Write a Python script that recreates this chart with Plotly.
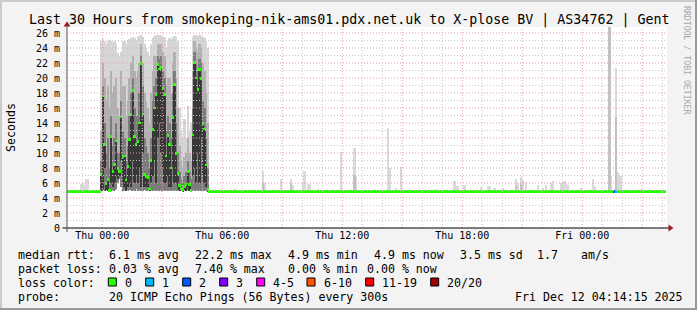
import plotly.graph_objects as go
import pandas as pd

# ---------------- data ----------------
title_text = "Last 30 Hours from smokeping-nik-ams01.pdx.net.uk to X-plose BV | AS34762 | Gent"
x_start = "2025-12-10 22:14:15"
x_end = "2025-12-12 04:14:15"
first_sample = "2025-12-10 22:15"
last_sample = "2025-12-12 04:10"

x_tick_vals = ["2025-12-11 00:00", "2025-12-11 03:00", "2025-12-11 06:00", "2025-12-11 09:00",
               "2025-12-11 12:00", "2025-12-11 15:00", "2025-12-11 18:00", "2025-12-11 21:00",
               "2025-12-12 00:00", "2025-12-12 03:00"]
x_tick_text = ["Thu 00:00", "", "Thu 06:00", "", "Thu 12:00", "", "Thu 18:00", "", "Fri 00:00", ""]
y_tick_vals = [0, 2, 4, 6, 8, 10, 12, 14, 16, 18, 20, 22, 24, 26]
y_tick_text = ["0", "2 m", "4 m", "6 m", "8 m", "10 m", "12 m", "14 m", "16 m", "18 m",
               "20 m", "22 m", "24 m", "26 m"]

calm_median = 4.9
calm_min = 4.8

# turbulent period, 5-minute samples starting Thu 00:00 (ms)
turb_first = "2025-12-11 00:00"
turb_median = [7.1, 17.6, 11.1, 5.9, 6.5, 5.0, 12.2, 7.5, 8.5, 11.6,
               7.9, 7.5, 14.8, 9.5, 9.6, 6.4, 8.2, 11.8, 15.1, 18.3,
               12.2, 11.1, 11.5, 14.0, 21.9, 15.2, 7.1, 6.9, 6.7, 5.2,
               9.0, 13.1, 16.0, 17.8, 21.8, 21.2, 21.4, 18.6, 17.8, 9.6,
               12.3, 11.1, 8.0, 14.7, 19.1, 9.9, 7.3, 5.7, 5.3, 5.1,
               5.5, 5.8, 7.5, 5.8, 5.0, 12.4, 22.1, 20.0, 18.5, 21.1,
               19.9, 13.9, 13.2, 8.4, 5.1]
turb_min = [5.0, 5.0, 5.0, 5.0, 5.0, 4.9, 5.0, 5.1, 5.0, 5.2,
            6.0, 6.5, 5.5, 5.0, 5.0, 5.0, 5.0, 5.1, 5.0, 5.0,
            5.0, 5.2, 5.0, 5.0, 5.0, 5.0, 5.1, 5.0, 5.0, 4.9,
            5.0, 5.0, 5.0, 5.0, 5.0, 5.0, 5.0, 5.0, 5.0, 5.0,
            5.0, 5.0, 5.0, 5.0, 5.0, 5.0, 5.0, 4.9, 4.9, 4.9,
            4.9, 4.9, 5.0, 4.9, 4.9, 5.0, 5.0, 5.0, 5.0, 5.0,
            5.0, 5.0, 5.0, 5.0, 4.9]
# lower end of the darkest streak below each median
turb_black_lo = [5.0, 5.2, 8.0, 5.0, 5.0, 4.9, 6.0, 5.5, 6.0, 7.0,
                 6.5, 7.0, 9.0, 6.0, 5.5, 5.0, 5.5, 6.0, 5.5, 9.0,
                 6.0, 7.0, 6.0, 8.0, 5.5, 10.0, 5.5, 5.5, 5.5, 4.9,
                 6.0, 7.0, 9.0, 6.0, 12.0, 14.0, 10.0, 8.0, 6.0, 6.0,
                 7.0, 5.5, 5.5, 8.0, 6.0, 6.0, 5.5, 5.0, 5.0, 4.9,
                 5.0, 5.0, 5.5, 5.0, 4.9, 7.0, 8.0, 6.0, 10.0, 6.0,
                 12.0, 7.0, 6.0, 5.5, 4.9]
turb_dark = [9, 19, 14, 10, 12, 8, 15, 11, 12, 14,
             10, 10, 17, 13, 12, 9, 11, 15, 18, 20,
             16, 15, 15, 18, 23, 19, 12, 11, 10, 8,
             12, 17, 19, 20, 23, 22.5, 23, 21, 20, 13,
             15, 14, 12, 18, 21, 14, 10, 7.5, 6.5, 6.0,
             7.0, 7.5, 9.0, 7.5, 6.5, 16, 23.5, 22, 21, 22.5,
             22, 17, 16, 12, 8]
turb_mid = [13, 22, 20, 17, 19, 16, 21, 18, 19, 20,
            16, 15, 21, 19, 19, 15, 17, 20, 22, 23,
            21, 20, 21, 22, 24.5, 22, 18, 17, 16, 14,
            18, 21, 23, 23, 24.5, 24.5, 24.5, 23.5, 23, 19,
            20, 20, 18, 22, 23.5, 20, 16, 11, 9, 8,
            9.5, 10, 12, 10, 9, 21, 25, 24, 23.5, 24.5,
            24, 22, 21, 18, 14]
turb_max = [25.0, 25.2, 25.0, 24.5, 25.0, 25.1, 25.0, 24.8, 25.0, 24.6,
            23.3, 23.0, 23.5, 24.8, 25.0, 24.5, 25.0, 25.2, 25.4, 25.5,
            25.3, 25.0, 25.5, 25.6, 25.8, 25.5, 24.5, 24.0, 23.5, 23.0,
            24.5, 25.4, 25.6, 25.7, 25.8, 25.7, 25.6, 25.5, 25.5, 24.0,
            25.0, 25.4, 25.2, 25.5, 25.6, 25.5, 25.0, 16.0, 13.0, 12.0,
            14.5, 12.0, 16.3, 13.0, 14.0, 25.5, 25.8, 25.7, 25.6, 25.7,
            25.6, 25.5, 25.3, 25.0, 24.0]

# isolated smoke spikes in the calm periods (max ping, ms)
spike_times = ["2025-12-10 23:00", "2025-12-10 23:05", "2025-12-10 23:10", "2025-12-10 23:15", "2025-12-10 23:20",
               "2025-12-11 06:40", "2025-12-11 07:35", "2025-12-11 08:05", "2025-12-11 08:10", "2025-12-11 09:00",
               "2025-12-11 09:30", "2025-12-11 09:35", "2025-12-11 10:05", "2025-12-11 10:10", "2025-12-11 10:20",
               "2025-12-11 10:25", "2025-12-11 10:50", "2025-12-11 12:00", "2025-12-11 12:40", "2025-12-11 12:45",
               "2025-12-11 13:15", "2025-12-11 14:20", "2025-12-11 14:25", "2025-12-11 14:45", "2025-12-11 15:00",
               "2025-12-11 16:45", "2025-12-11 17:40", "2025-12-11 17:45", "2025-12-11 17:50", "2025-12-11 18:10",
               "2025-12-11 19:00", "2025-12-11 19:20", "2025-12-11 19:25", "2025-12-11 19:40", "2025-12-11 20:05",
               "2025-12-11 20:45", "2025-12-11 20:50", "2025-12-11 21:00", "2025-12-11 21:05", "2025-12-11 21:15",
               "2025-12-11 21:50", "2025-12-11 22:05", "2025-12-11 22:15", "2025-12-11 22:30", "2025-12-11 22:35",
               "2025-12-11 23:00", "2025-12-11 23:05", "2025-12-11 23:10", "2025-12-11 23:15", "2025-12-11 23:20",
               "2025-12-12 00:00", "2025-12-12 00:35", "2025-12-12 00:40", "2025-12-12 01:25", "2025-12-12 01:30",
               "2025-12-12 01:45", "2025-12-12 01:50", "2025-12-12 01:55", "2025-12-12 02:00", "2025-12-12 03:00"]
spike_max = [5.9, 6.0, 5.8, 6.6, 6.5,
             5.2, 5.1, 7.6, 6.0, 6.6,
             6.5, 5.8, 6.0, 7.6, 5.9,
             5.9, 5.2, 10.1, 10.7, 7.0,
             5.1, 13.4, 8.0, 5.4, 8.1,
             5.2, 6.3, 5.6, 5.6, 5.8,
             5.5, 5.6, 5.6, 5.4, 5.3,
             6.5, 6.0, 6.8, 6.4, 6.2,
             5.8, 5.4, 5.7, 6.0, 6.3,
             6.0, 6.1, 6.3, 6.0, 5.8,
             5.4, 6.6, 5.6, 27.0, 7.0,
             21.3, 7.5, 6.9, 6.9, 5.2]
# darker inner smoke of some spikes
spike_mid_times = ["2025-12-11 08:05", "2025-12-11 09:30", "2025-12-11 12:40", "2025-12-11 20:45",
                   "2025-12-11 21:00", "2025-12-12 01:25", "2025-12-12 01:45"]
spike_mid = [6.0, 5.9, 7.1, 5.6, 5.9, 27.0, 14.8]

# samples with packet loss (median coloured by loss)
loss_times = ["2025-12-12 01:40", "2025-12-12 01:45"]
loss_counts = [2, 1]

loss_labels = ["0", "1", "2", "3", "4-5", "6-10", "11-19", "20/20"]
loss_colors = ["#26ff00", "#00b8ff", "#0059ff", "#7e00ff", "#ff00ff", "#ff5500", "#ff0000", "#a10000"]
loss_color_by_count = {0: "#26ff00", 1: "#00b8ff", 2: "#0059ff", 3: "#7e00ff"}

rtt_stats = [("6.1", "ms avg"), ("22.2", "ms max"), ("4.9", "ms min"), ("4.9", "ms now"), ("3.5", "ms sd")]
rtt_amps = "1.7"
loss_stats = [("0.03", "% avg"), ("7.40", "% max"), ("0.00", "% min"), ("0.00", "% now")]
probe_text = "20 ICMP Echo Pings (56 Bytes) every 300s"
stamp_text = "Fri Dec 12 04:14:15 2025"

# ---------------- drawing ----------------
FONT = "DejaVu Sans Mono"
W, H = 697, 310
L, R, T, B = 67, 667, 27, 228
STEP = 300000  # 5 min in ms


def px(x):
    return (x - L) / (R - L)


def py(y):
    return (B - y) / (B - T)


fig = go.Figure()


def bars(times, base, top, color):
    fig.add_trace(go.Bar(
        x=times, base=base, y=[t - b for t, b in zip(top, base)],
        width=STEP, offset=-STEP,
        marker=dict(color=color, line=dict(width=0)),
        hoverinfo="skip", showlegend=False))


turb_times = list(pd.date_range(turb_first, periods=len(turb_median), freq="5min"))

LIGHT, MID, DARK, DARKEST = "#d6d6d6", "#b0b0b0", "#7c7c7c", "#383838"

bars(turb_times, turb_min, turb_max, LIGHT)
bars(spike_times, [calm_min] * len(spike_times), spike_max, "#dadada")
bars(turb_times, turb_min, turb_mid, MID)
bars(spike_mid_times, [calm_min] * len(spike_mid_times), spike_mid, "#c2c2c2")
bars(turb_times, turb_min, turb_dark, DARK)
bars(turb_times, turb_black_lo, turb_median, DARKEST)

# median line coloured by loss
all_times = list(pd.date_range(first_sample, last_sample, freq="5min"))
median = {t: calm_median for t in all_times}
for t, v in zip(turb_times, turb_median):
    median[t] = v
mcolor = {t: loss_color_by_count[0] for t in all_times}
for t, c in zip(loss_times, loss_counts):
    mcolor[pd.Timestamp(t)] = loss_color_by_count[c]
mt = list(median.keys())
mv = [median[t] for t in mt]
fig.add_trace(go.Bar(
    x=mt, base=[v - 0.17 for v in mv], y=[0.34] * len(mv),
    width=STEP, offset=-STEP,
    marker=dict(color=[mcolor[t] for t in mt], line=dict(width=0)),
    hoverinfo="skip", showlegend=False))

# grid drawn above the data (as rrdtool does)
shapes = []
GRID_MINOR = "#c6c6c6"
GRID_MAJOR = "#e6a0a0"
DASH = "1px,2px"
hours = pd.date_range("2025-12-10 23:00", "2025-12-12 04:00", freq="1h")
for h in hours:
    major = (h.hour % 3 == 0)
    shapes.append(dict(type="line", xref="x", yref="paper", x0=h, x1=h, y0=0, y1=1, layer="above",
                       line=dict(color=GRID_MAJOR if major else GRID_MINOR, width=1, dash=DASH)))
for v in range(1, 27):
    major = (v % 2 == 0)
    shapes.append(dict(type="line", xref="paper", yref="y", x0=0, x1=1, y0=v, y1=v, layer="above",
                       line=dict(color=GRID_MAJOR if major else GRID_MINOR, width=1, dash=DASH)))

AXC = "#000000"
ARROW = "#9e1b1b"
# axes
shapes.append(dict(type="line", xref="paper", yref="paper", x0=px(62.5), x1=px(670), y0=py(228), y1=py(228),
                   layer="above", line=dict(color=AXC, width=1)))
shapes.append(dict(type="line", xref="paper", yref="paper", x0=px(67), x1=px(67), y0=py(232), y1=py(24),
                   layer="above", line=dict(color="#555555", width=1)))
shapes.append(dict(type="path", xref="paper", yref="paper", layer="above",
                   path=f"M {px(668.5)},{py(224.5)} L {px(673.5)},{py(228)} L {px(668.5)},{py(231.5)} Z",
                   fillcolor=ARROW, line=dict(width=0)))
shapes.append(dict(type="path", xref="paper", yref="paper", layer="above",
                   path=f"M {px(63.5)},{py(26.5)} L {px(67)},{py(21.5)} L {px(70.5)},{py(26.5)} Z",
                   fillcolor=ARROW, line=dict(width=0)))

# frame of the whole image
shapes.append(dict(type="rect", xref="paper", yref="paper", x0=px(0), x1=px(697), y0=py(0), y1=py(2),
                   fillcolor="#cbcbcb", line=dict(width=0), layer="above"))
shapes.append(dict(type="rect", xref="paper", yref="paper", x0=px(0), x1=px(2), y0=py(0), y1=py(310),
                   fillcolor="#cbcbcb", line=dict(width=0), layer="above"))
shapes.append(dict(type="rect", xref="paper", yref="paper", x0=px(0), x1=px(697), y0=py(308), y1=py(310),
                   fillcolor="#999999", line=dict(width=0), layer="above"))
shapes.append(dict(type="rect", xref="paper", yref="paper", x0=px(695), x1=px(697), y0=py(0), y1=py(310),
                   fillcolor="#999999", line=dict(width=0), layer="above"))

annotations = []


def text(x, y, s, size=11.6, color="#000000", xanchor="left", angle=0):
    annotations.append(dict(x=px(x), y=py(y), xref="paper", yref="paper", text=s, showarrow=False,
                            xanchor=xanchor, yanchor="middle", textangle=angle,
                            font=dict(family=FONT, size=size, color=color)))


text(348.5, 19.5, title_text, size=13.3, xanchor="center")
text(10.5, 127.5, "Seconds", xanchor="center", angle=-90)
text(687, 60, "RRDTOOL / TOBI OETIKER", size=8.2, color="#a8a8a8", xanchor="center", angle=90)

Y1, Y2, Y3, Y4 = 254.5, 268.5, 282.5, 296.5
text(16, Y1, "median rtt:")
for xx, (v, u) in zip([107.3, 193.3, 286, 372.3, 458.3], rtt_stats):
    text(xx, Y1, f"{v} {u}")
text(535, Y1, rtt_amps)
text(579.3, Y1, "am/s")
text(16, Y2, "packet loss:")
for xx, (v, u) in zip([107.3, 193.3, 286, 365], loss_stats):
    text(xx, Y2, f"{v} {u}")
text(16, Y3, "loss color:")
box_x = [108.3, 145.7, 182.7, 219.7, 256.7, 307, 365.7, 430.7]
for bx, lab, col in zip(box_x, loss_labels, loss_colors):
    shapes.append(dict(type="rect", xref="paper", yref="paper", x0=px(bx), x1=px(bx + 8), y0=py(278), y1=py(286),
                       fillcolor=col, line=dict(color="#000000", width=1)))
    text(bx + 14.7, Y3, lab)
text(16, Y4, "probe:")
text(107.3, Y4, probe_text)
text(513.3, Y4, stamp_text)

fig.update_layout(
    width=W, height=H,
    margin=dict(l=L, r=W - R, t=T, b=H - B, pad=0),
    paper_bgcolor="#f3f3f3", plot_bgcolor="#ffffff",
    barmode="overlay", bargap=0,
    showlegend=False, hovermode=False,
    shapes=shapes, annotations=annotations,
    xaxis=dict(type="date", range=[x_start, x_end], tickvals=x_tick_vals, ticktext=x_tick_text,
               showgrid=False, zeroline=False, showline=False, ticks="",
               tickfont=dict(family=FONT, size=10, color="#000000"), fixedrange=True),
    yaxis=dict(range=[0, 26.8], tickvals=y_tick_vals, ticktext=y_tick_text,
               showgrid=False, zeroline=False, showline=False, ticks="",
               ticklabelstandoff=6,
               tickfont=dict(family=FONT, size=10, color="#000000"), fixedrange=True),
)

fig.write_html("out.html", config={"displayModeBar": False})
